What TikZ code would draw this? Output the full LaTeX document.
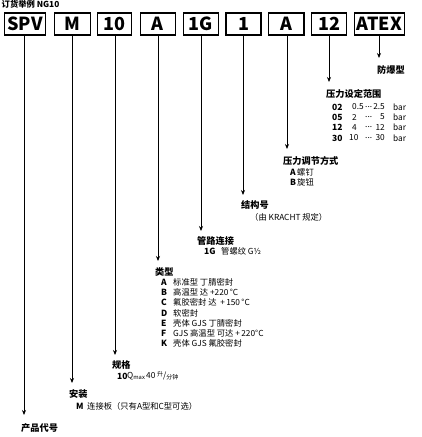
\documentclass[tikz,border=0pt]{standalone}
\usepackage{fontspec}
\setmainfont{Noto Sans CJK SC}
\usetikzlibrary{arrows.meta}
\begin{document}
\begin{tikzpicture}[x=1pt,y=-1pt,
 box/.style={draw, line width=1.1pt, minimum height=22pt, inner sep=0pt, font=\fontsize{18}{17}\selectfont\bfseries},
 arr/.style={line width=0.8pt, -{Stealth[length=5pt,width=4pt]}},
 head/.style={anchor=west, inner sep=0pt, font=\fontsize{9.2}{9}\selectfont\bfseries},
 body/.style={anchor=west, inner sep=0pt, font=\fontsize{8.3}{8}\selectfont},
 bodyb/.style={anchor=west, inner sep=0pt, font=\fontsize{8.5}{8}\selectfont\bfseries},
 bodye/.style={anchor=east, inner sep=0pt, font=\fontsize{8.3}{8}\selectfont}]
\useasboundingbox (0,0) rectangle (421,437);

\node[anchor=west, inner sep=0pt, font=\fontsize{8.3}{8}\selectfont\bfseries] (title) at (1.5,4.5) {订货举例\ NG10};

\node[box, minimum width=41.4pt] (b1) at (25,24) {SPV};
\node[box, minimum width=35.7pt] (b2) at (72.2,24) {M};
\node[box, minimum width=34.4pt] (b3) at (114.5,24) {10};
\node[box, minimum width=35pt] (b4) at (157.8,24) {A};
\node[box, minimum width=35pt] (b5) at (200.8,24) {1G};
\node[box, minimum width=35pt] (b6) at (243.5,24) {1};
\node[box, minimum width=35.3pt] (b7) at (286.3,24) {A};
\node[box, minimum width=35.4pt] (b8) at (329,24) {12};
\node[box, minimum width=49.6pt] (b9) at (379.5,24) {ATEX};

\coordinate (e1) at (24,415);
\coordinate (e2) at (72,383);
\coordinate (e3) at (115,355);
\coordinate (e4) at (158,261);
\coordinate (e5) at (201,231);
\coordinate (e6) at (243,195);
\coordinate (e7) at (287,149);
\coordinate (e8) at (329,82);
\coordinate (e9) at (379,58);

\foreach \i in {1,...,9} {\draw[arr] (b\i.south -| e\i) -- (e\i);}

% ATEX
\node[head] (l9) at (377,70) {防爆型};

% 12
\node[head] (l8) at (326,94) {压力设定范围};
\node[bodyb] (r1a) at (332,107) {02};
\node[body] (r1b) at (352,107) {0.5};
\node[body] (r1c) at (365,107) {...};
\node[bodye] (r1d) at (385,107) {2.5};
\node[body] (r1e) at (393,107) {bar};
\node[bodyb] (r2a) at (332,117) {05};
\node[body] (r2b) at (352,117) {2};
\node[body] (r2c) at (365,117) {...};
\node[bodye] (r2d) at (385,117) {5};
\node[body] (r2e) at (393,117) {bar};
\node[bodyb] (r3a) at (332,127.5) {12};
\node[body] (r3b) at (352,127.5) {4};
\node[body] (r3c) at (365,127.5) {...};
\node[bodye] (r3d) at (385,127.5) {12};
\node[body] (r3e) at (393,127.5) {bar};
\node[bodyb] (r4a) at (332,138) {30};
\node[body] (r4b) at (349,138) {10};
\node[body] (r4c) at (365,138) {...};
\node[bodye] (r4d) at (385,138) {30};
\node[body] (r4e) at (393,138) {bar};

% A (pressure adjust)
\node[head] (l7) at (283,161) {压力调节方式};
\node[bodyb] (p1a) at (290,172) {A};
\node[body] (p1b) at (297,172) {螺钉};
\node[bodyb] (p2a) at (290,182) {B};
\node[body] (p2b) at (297,182) {旋钮};

% 1
\node[head] (l6) at (241,205) {结构号};
\node[body] (s1) at (250,217) {（由 KRACHT 规定）};

% 1G
\node[head] (l5) at (197,241) {管路连接};
\node[bodyb] (g1a) at (204,251) {1G};
\node[body] (g1b) at (221,251) {管螺纹 G½};

% A type
\node[head] (l4) at (155,272) {类型};
\foreach \y/\k/\t [count=\n] in {
 282/A/标准型 丁腈密封,
 292.3/B/高温型 达 +220\,°C,
 302.6/C/氟胶密封 达\ \ +\,150\,°C,
 312.9/D/软密封,
 323.2/E/壳体 GJS 丁腈密封,
 333.5/F/GJS 高温型 可达 +\,220°C,
 343.8/K/壳体 GJS 氟胶密封} {
 \node[bodyb] (t\n a) at (161,\y) {\k};
 \node[body] (t\n b) at (173,\y) {\t};
}

% 10
\node[head] (l3) at (112,365) {规格};
\node[bodyb] (q1) at (117,376) {10};
\node[body] (q2) at (127,376) {Q\textsubscript{max}};
\node[body] (q3) at (146,376) {40};
\node[body] (q4) at (157,376) {\raisebox{1.5pt}{\fontsize{6}{5}\selectfont 升}/\raisebox{-1.5pt}{\fontsize{6}{5}\selectfont 分钟}};

% M
\node[head] (l2) at (69,394) {安装};
\node[bodyb] (m1) at (76,406) {M};
\node[body] (m2) at (87,406) {连接板（只有A型和C型可选）};

% SPV
\node[head] (l1) at (21,428) {产品代号};
\end{tikzpicture}
\end{document}
